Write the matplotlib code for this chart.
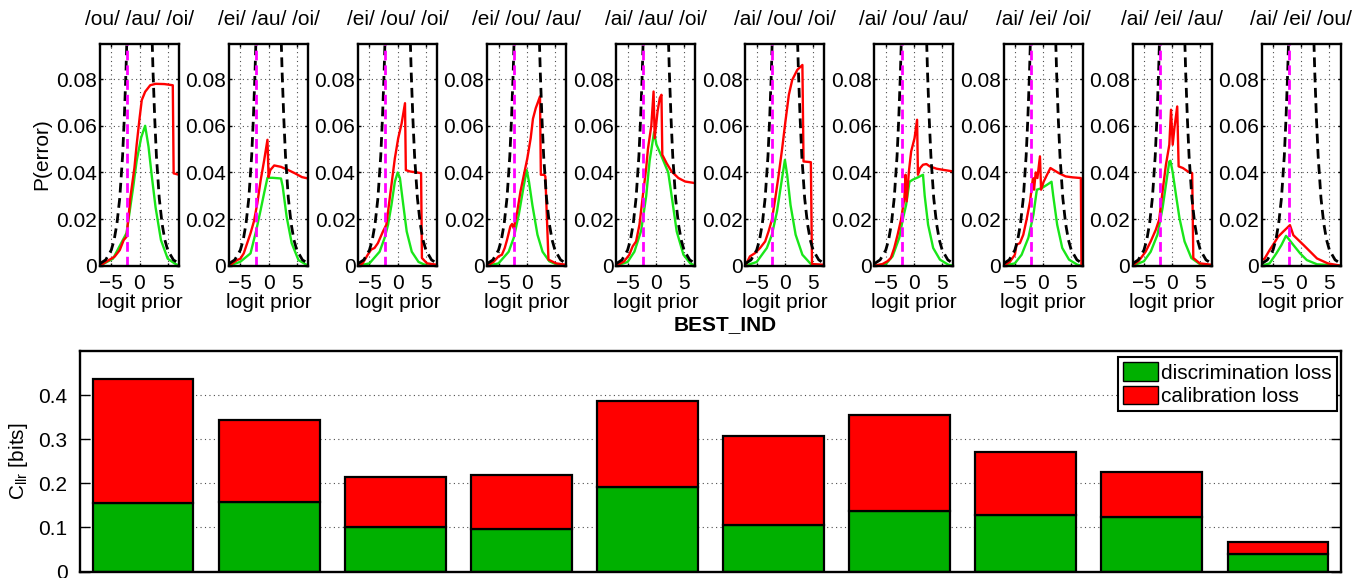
import matplotlib

matplotlib.use("Agg")
import matplotlib.pyplot as plt
import numpy as np
from matplotlib.patches import Patch

plt.rcParams["font.family"] = ["Liberation Sans", "DejaVu Sans"]
plt.rcParams["font.size"] = 15
plt.rcParams["mathtext.default"] = "regular"

# ---- top row: error-rate curves per vowel subset ----
TITLES = [
    "/ou/ /au/ /oi/", "/ei/ /au/ /oi/", "/ei/ /ou/ /oi/", "/ei/ /ou/ /au/", "/ai/ /au/ /oi/",
    "/ai/ /ou/ /oi/", "/ai/ /ou/ /au/", "/ai/ /ei/ /oi/", "/ai/ /ei/ /au/", "/ai/ /ei/ /ou/",
]
PRIOR_LOGIT = -2.2

# default (uninformative) error curve, left and right branches
DEFAULT_X = [-7, -6, -5, -4.5, -4, -3.5, -3, -2.7, -2.4, -2.1]
DEFAULT_Y = [0.0009, 0.0025, 0.0067, 0.011, 0.018, 0.029, 0.047, 0.063, 0.083, 0.109]

GREEN_1 = [(-7, 0), (-4.7, 0.003), (-2.3, 0.014), (-1.1, 0.034), (-0.5, 0.045), (0.3, 0.055),
           (1.0, 0.060), (1.6, 0.051), (2.2, 0.038), (2.85, 0.025), (3.8, 0.011), (5.0, 0.003),
           (6.2, 0.001), (7, 0)]
RED_1 = [(-7, 0), (-5.9, 0.0017), (-4.4, 0.0039), (-3.5, 0.0067), (-2.8, 0.011), (-2.3, 0.0124),
         (-2.0, 0.0196), (-1.6, 0.0296), (-1.2, 0.0367), (-0.9, 0.042), (-0.5, 0.052), (0, 0.063),
         (0.4, 0.071), (1.0, 0.0746), (1.9, 0.0774), (2.85, 0.078), (4.4, 0.0779), (5.9, 0.0774),
         (6.05, 0.0396), (7, 0.039)]
GREEN_2 = [(-7, 0), (-5.0, 0.0017), (-3.2, 0.0053), (-2.2, 0.015), (-1.4, 0.024), (-0.8, 0.031),
           (-0.2, 0.0377), (0.7, 0.0377), (2.2, 0.0374), (2.5, 0.034), (3.2, 0.021), (4.1, 0.0096),
           (5.3, 0.0024), (7, 0)]
RED_2 = [(-7, 0), (-5.6, 0.0024), (-5.0, 0.003), (-4.4, 0.0053), (-3.8, 0.0096), (-3.2, 0.0139),
         (-2.6, 0.019), (-2.0, 0.0267), (-1.4, 0.0367), (-0.8, 0.045), (-0.2, 0.054), (0, 0.038),
         (0.3, 0.041), (1.0, 0.043), (2.2, 0.0424), (3.5, 0.041), (4.7, 0.0396), (5.9, 0.038),
         (7, 0.0374)]
GREEN_3 = [(-7, 0), (-5, 0.001), (-3.2, 0.006), (-2.3, 0.012), (-1.7, 0.0176), (-1.1, 0.026),
           (-0.5, 0.036), (0, 0.040), (0.4, 0.0376), (1.0, 0.026), (1.6, 0.0147), (2.5, 0.006),
           (3.7, 0.0016), (5.2, 0), (7, 0)]
RED_3 = [(-7, 0), (-6.2, 0.001), (-5.3, 0.0047), (-4.7, 0.0069), (-4.1, 0.0076), (-3.5, 0.0097),
         (-2.6, 0.0147), (-2.0, 0.0176), (-1.4, 0.029), (-0.5, 0.046), (0.1, 0.0547), (0.7, 0.061),
         (1.3, 0.0697), (1.45, 0.041), (2.2, 0.0404), (3.4, 0.040), (4.15, 0.0397), (4.3, 0.0033),
         (5.2, 0.001), (7, 0.0004)]
GREEN_4 = [(-7, 0), (-5, 0.001), (-3.2, 0.006), (-2.3, 0.012), (-1.4, 0.022), (-0.5, 0.0347),
           (0, 0.041), (0.4, 0.036), (1.0, 0.026), (1.9, 0.0133), (2.8, 0.006), (4.0, 0.0019),
           (5.8, 0), (7, 0)]
RED_4 = [(-7, 0), (-5.9, 0.0016), (-5, 0.004), (-4.4, 0.0047), (-3.9, 0.0076), (-3.5, 0.011),
         (-2.9, 0.0169), (-2.6, 0.0179), (-2.3, 0.016), (-1.7, 0.023), (-1.1, 0.032), (-0.5, 0.039),
         (0.1, 0.046), (0.7, 0.0547), (1.1, 0.063), (1.6, 0.0676), (2.35, 0.0726), (2.5, 0.039),
         (3.1, 0.039), (3.3, 0.0383), (3.85, 0.0026), (5.2, 0.001), (7, 0.0004)]
GREEN_5 = [(-7, 0), (-5, 0.0016), (-3.8, 0.006), (-2.6, 0.015), (-1.7, 0.030), (-1.1, 0.045),
           (-0.3, 0.0573), (0.1, 0.052), (1.0, 0.047), (2.2, 0.040), (2.8, 0.030), (3.7, 0.0147),
           (4.9, 0.0047), (6.1, 0.001), (7, 0)]
RED_5 = [(-7, 0), (-5.6, 0.0019), (-4.7, 0.0047), (-4.1, 0.0083), (-3.5, 0.0104), (-2.9, 0.0176),
         (-2.3, 0.030), (-2.0, 0.036), (-1.7, 0.042), (-1.4, 0.050), (-0.8, 0.060), (-0.4, 0.0747),
         (-0.2, 0.0547), (0.3, 0.066), (0.7, 0.0719), (1.0, 0.0733), (1.15, 0.0476), (1.9, 0.044),
         (2.8, 0.0404), (4.0, 0.0376), (5.2, 0.0361), (7, 0.0354)]
GREEN_6 = [(-7, 0), (-5, 0.0016), (-3.2, 0.0076), (-2.3, 0.0133), (-1.4, 0.0233), (-0.5, 0.0376),
           (0, 0.0454), (0.4, 0.039), (1.0, 0.026), (1.9, 0.0133), (3.1, 0.0047), (4.6, 0.0007),
           (7, 0)]
RED_6 = [(-7, 0), (-6.2, 0.004), (-5.3, 0.0054), (-4.4, 0.0076), (-3.5, 0.0104), (-2.9, 0.0147),
         (-2.3, 0.0197), (-1.7, 0.029), (-1.1, 0.039), (-0.5, 0.050), (0.1, 0.062), (0.7, 0.0733),
         (1.3, 0.0797), (2.2, 0.084), (3.1, 0.0861), (3.3, 0.0447), (4.6, 0.0444), (4.8, 0.0007),
         (7, 0.0004)]
GREEN_7 = [(-7, 0), (-5, 0.0007), (-3.8, 0.004), (-2.6, 0.012), (-2.0, 0.0197), (-1.4, 0.026),
           (-0.8, 0.036), (-0.2, 0.0369), (0.7, 0.0379), (1.6, 0.039), (1.9, 0.030), (2.5, 0.0176),
           (3.4, 0.0076), (4.6, 0.0026), (6.1, 0.0004), (7, 0)]
RED_7 = [(-7, 0), (-5.6, 0.0007), (-4.7, 0.0019), (-4.1, 0.0033), (-3.5, 0.0076), (-2.9, 0.0133),
         (-2.3, 0.0197), (-1.7, 0.029), (-1.5, 0.039), (-1.3, 0.0276), (-0.9, 0.0404), (-0.5, 0.049),
         (0.1, 0.0547), (0.55, 0.0626), (0.7, 0.039), (1.1, 0.0419), (1.6, 0.0433), (2.2, 0.0436),
         (2.8, 0.0426), (4.0, 0.0416), (5.2, 0.0411), (7, 0.0404)]
GREEN_8 = [(-7, 0), (-5, 0.001), (-3.8, 0.0047), (-2.6, 0.012), (-1.7, 0.022), (-1.1, 0.0326),
           (-0.2, 0.0333), (0.7, 0.0347), (1.5, 0.036), (1.8, 0.030), (2.5, 0.0176), (3.4, 0.0076),
           (4.6, 0.0026), (6.1, 0.0004), (7, 0)]
RED_8 = [(-7, 0), (-5.9, 0.0016), (-5, 0.0047), (-4.7, 0.009), (-4.1, 0.0097), (-3.5, 0.0133),
         (-2.9, 0.020), (-2.3, 0.0276), (-1.8, 0.0376), (-1.6, 0.0326), (-1.3, 0.040), (-1.0, 0.0376),
         (-0.55, 0.0469), (-0.35, 0.0326), (0.1, 0.036), (0.7, 0.039), (1.3, 0.0419), (1.9, 0.041),
         (2.8, 0.0397), (4.0, 0.0383), (5.2, 0.0379), (6.7, 0.0376), (6.8, 0), (7, 0)]
GREEN_9 = [(-7, 0), (-5, 0.0019), (-3.8, 0.006), (-2.6, 0.0133), (-1.7, 0.0247), (-1.1, 0.0347),
           (-0.5, 0.0447), (-0.3, 0.045), (0.1, 0.040), (0.7, 0.030), (1.3, 0.0204), (2.2, 0.0104),
           (3.4, 0.0033), (4.9, 0.0007), (7, 0)]
RED_9 = [(-7, 0), (-5.9, 0.0021), (-4.7, 0.006), (-3.8, 0.0104), (-2.9, 0.0154), (-2.3, 0.0197),
         (-1.7, 0.0319), (-1.1, 0.0433), (-0.5, 0.0519), (-0.2, 0.0669), (0.1, 0.0519), (0.4, 0.059),
         (0.9, 0.0683), (1.15, 0.0426), (1.9, 0.0419), (2.8, 0.0404), (3.55, 0.0397), (3.75, 0.0033),
         (4.9, 0.001), (7, 0.0004)]
GREEN_10 = [(-7, 0), (-5.6, 0.001), (-4.4, 0.0053), (-3.5, 0.0089), (-2.7, 0.0128), (-2.3, 0.0117),
            (-1.4, 0.0089), (-0.2, 0.0053), (1.0, 0.0024), (2.8, 0.0006), (7, 0)]
RED_10 = [(-7, 0.0024), (-6.5, 0.003), (-5.6, 0.0067), (-5, 0.0089), (-4.1, 0.0124), (-3.2, 0.0146),
          (-2.6, 0.016), (-2.3, 0.0167), (-2.0, 0.0174), (-1.7, 0.0153), (-1.4, 0.0131),
          (-0.5, 0.011), (0.4, 0.0089), (1.6, 0.006), (2.8, 0.0031), (4.7, 0.001), (7, 0)]

GREENS = [GREEN_1, GREEN_2, GREEN_3, GREEN_4, GREEN_5, GREEN_6, GREEN_7, GREEN_8, GREEN_9, GREEN_10]
REDS = [RED_1, RED_2, RED_3, RED_4, RED_5, RED_6, RED_7, RED_8, RED_9, RED_10]

# ---- bottom: Cllr split into discrimination and calibration loss ----
CLLR_TOTAL = [0.436, 0.344, 0.215, 0.218, 0.386, 0.308, 0.354, 0.271, 0.225, 0.066]
DISCRIM_LOSS = [0.155, 0.157, 0.101, 0.097, 0.192, 0.106, 0.137, 0.128, 0.124, 0.039]

W, H = 1369, 578
GREEN_LINE = "#19e619"
GREEN_BAR = "#00b000"


def rect(left, top, right, bottom):
    return [left / W, 1 - bottom / H, (right - left) / W, (bottom - top) / H]


def main() -> None:
    fig = plt.figure(figsize=(W / 100, H / 100), dpi=100)

    dash_x = DEFAULT_X + [np.nan] + [-v for v in DEFAULT_X[::-1]]
    dash_y = DEFAULT_Y + [np.nan] + DEFAULT_Y[::-1]
    for i, (title, green, red) in enumerate(zip(TITLES, GREENS, REDS)):
        left = 100 + i * 129.08
        ax = fig.add_axes(rect(left, 43.5, left + 79, 265.7))
        gx, gy = zip(*green)
        rx, ry = zip(*red)
        ax.plot(gx, gy, color=GREEN_LINE, linewidth=1.7)
        ax.plot(rx, ry, color="red", linewidth=1.7)
        ax.plot(dash_x, dash_y, color="black", linewidth=2, dashes=(3.5, 2))
        ax.axvline(PRIOR_LOGIT, color="magenta", linewidth=2, dashes=(3.5, 1.8))
        ax.set_xlim(-7, 7)
        ax.set_ylim(0, 0.0953)
        ax.set_xticks([-5, 0, 5])
        ax.set_yticks([0, 0.02, 0.04, 0.06, 0.08])
        ax.set_yticklabels(["0", "0.02", "0.04", "0.06", "0.08"])
        ax.grid(True, linestyle=(0, (1, 3)), color="0.3", linewidth=0.8)
        ax.tick_params(direction="in", top=True, right=True, length=2, width=1)
        ax.tick_params(axis="y", pad=2)
        ax.tick_params(axis="x", pad=6)
        for spine in ax.spines.values():
            spine.set_linewidth(1.7)
        ax.set_title(title, fontsize=15, pad=13)
        ax.set_xlabel("logit prior", labelpad=0)
        if i == 0:
            ax.set_ylabel("P(error)", labelpad=4)

    fig.text(725 / W, 1 - 325 / H, "BEST_IND", fontsize=15, fontweight="bold",
             ha="center", va="center")

    ax = fig.add_axes(rect(80, 351, 1341, 571.5))
    x = np.arange(1, len(CLLR_TOTAL) + 1)
    calib = np.array(CLLR_TOTAL) - np.array(DISCRIM_LOSS)
    ax.bar(x, DISCRIM_LOSS, width=0.8, color=GREEN_BAR, edgecolor="black", linewidth=1.6)
    ax.bar(x, calib, bottom=DISCRIM_LOSS, width=0.8, color="red", edgecolor="black",
           linewidth=1.6)
    ax.set_xlim(0.5, 10.5)
    ax.set_ylim(0, 0.5)
    ax.set_xticks([])
    ax.set_yticks([0, 0.1, 0.2, 0.3, 0.4])
    ax.set_yticklabels(["0", "0.1", "0.2", "0.3", "0.4"])
    ax.set_axisbelow(True)
    ax.grid(True, axis="y", linestyle=(0, (1, 3)), color="0.3", linewidth=0.8)
    ax.tick_params(direction="in", right=True, length=7.5, width=1, pad=9)
    for spine in ax.spines.values():
        spine.set_linewidth(1.7)
    ax.set_ylabel(r"C$_{llr}$ [bits]", labelpad=6)
    handles = [
        Patch(facecolor=GREEN_BAR, edgecolor="black", label="discrimination loss"),
        Patch(facecolor="red", edgecolor="black", label="calibration loss"),
    ]
    leg = ax.legend(handles=handles, loc="upper right", bbox_to_anchor=(0.997, 0.973),
                    borderaxespad=0, fancybox=False, framealpha=1, edgecolor="black",
                    handlelength=1.7, handleheight=1.0, handletextpad=0.15, borderpad=0.25,
                    labelspacing=0.15, fontsize=15)
    leg.get_frame().set_linewidth(1.5)

    fig.savefig("out.png", dpi=100)
    plt.close(fig)


if __name__ == "__main__":
    main()
